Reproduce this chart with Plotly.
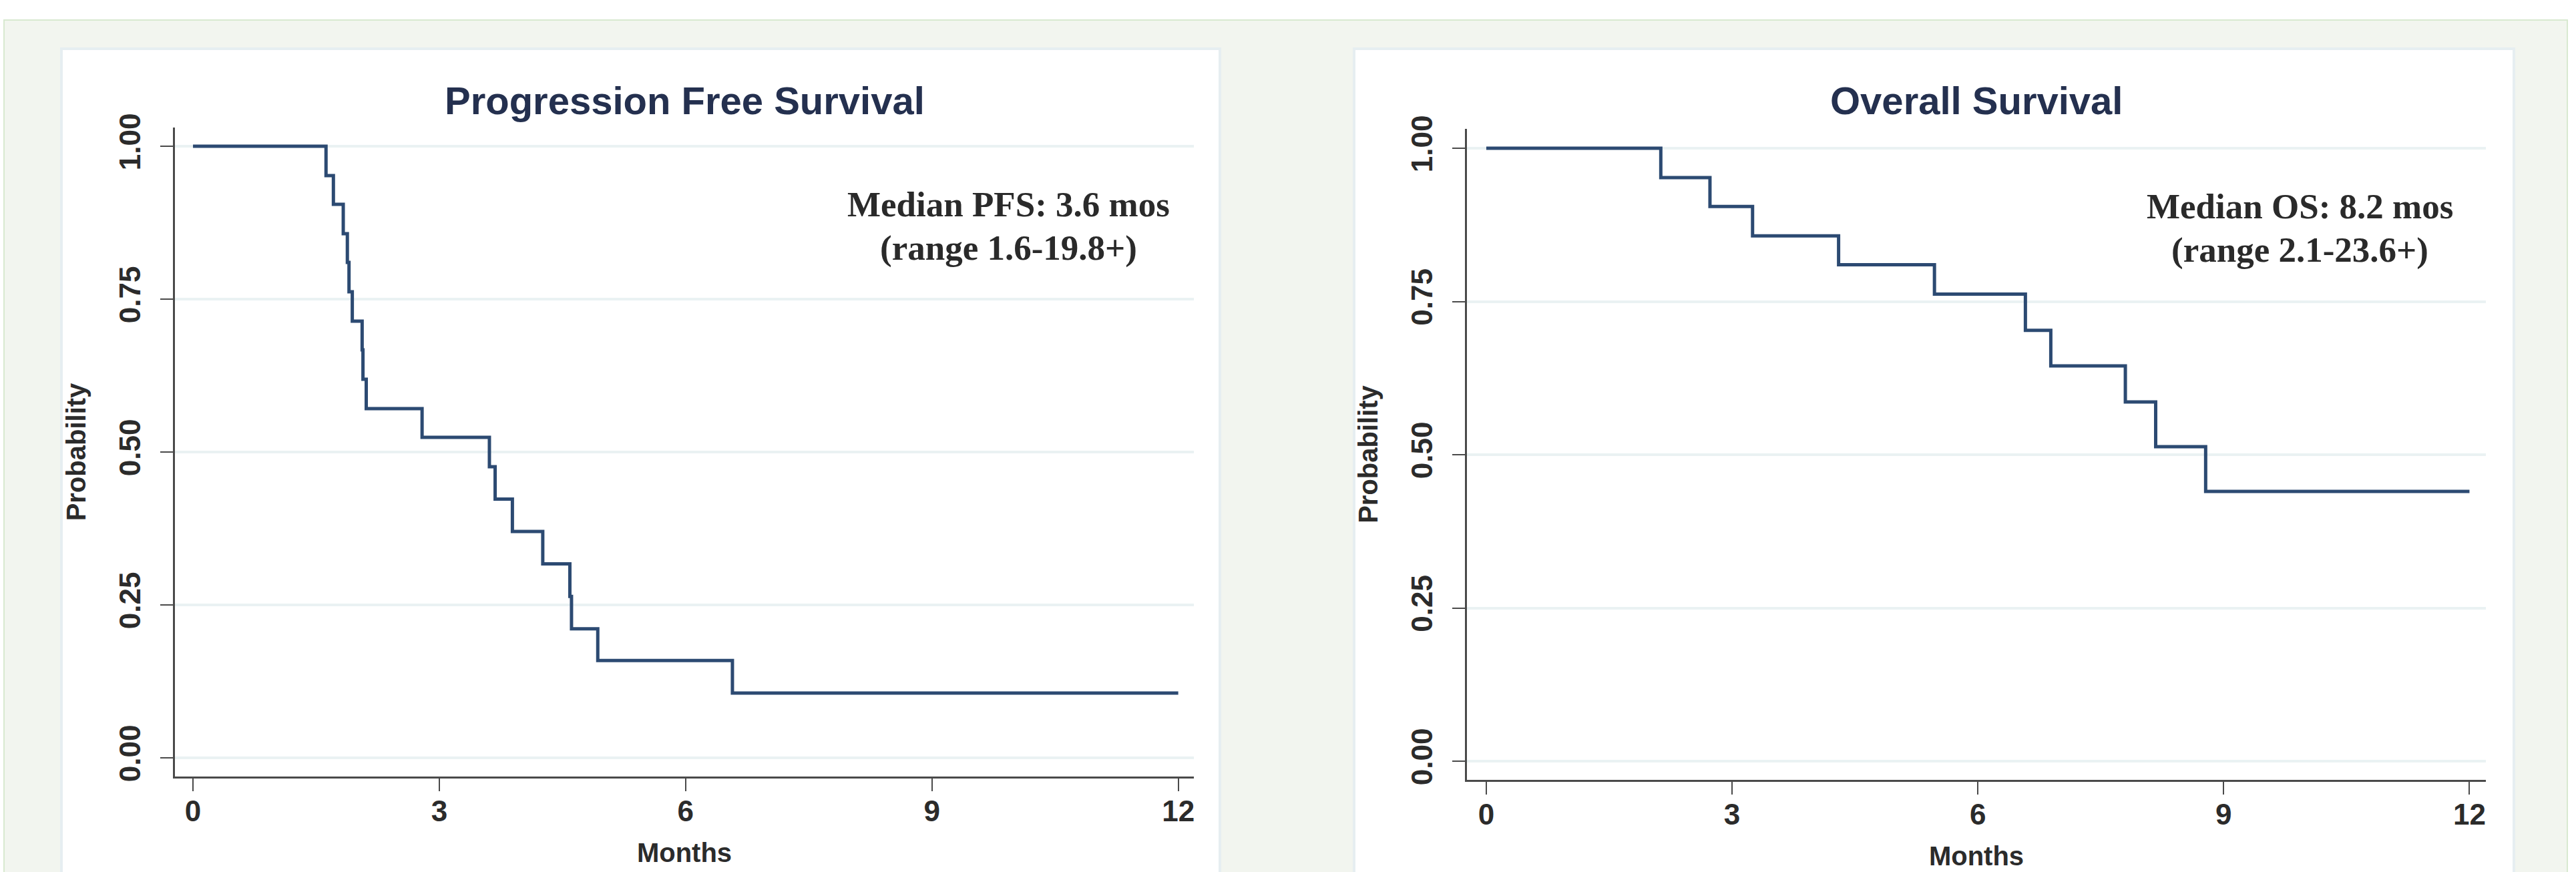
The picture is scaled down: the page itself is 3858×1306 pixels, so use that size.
import plotly.graph_objects as go

W, H = 3858, 1306

# ---- data ----
pfs_time = [0, 1.62, 1.71, 1.83, 1.88, 1.90, 1.94, 2.06, 2.07, 2.11, 2.79, 3.61,
            3.68, 3.89, 4.26, 4.59, 4.61, 4.93, 6.57, 12]
pfs_surv = [1.0, 0.952, 0.905, 0.857, 0.810, 0.762, 0.714, 0.667, 0.619, 0.571,
            0.524, 0.476, 0.423, 0.370, 0.317, 0.264, 0.211, 0.159, 0.106, 0.106]

os_time = [0, 2.13, 2.73, 3.25, 4.30, 5.47, 6.58, 6.89, 7.80, 8.17, 8.78, 12]
os_surv = [1.0, 0.952, 0.905, 0.857, 0.810, 0.762, 0.703, 0.645, 0.586, 0.513,
           0.440, 0.440]

x_ticks = [0, 3, 6, 9, 12]
y_ticks = [0, 0.25, 0.5, 0.75, 1.0]

titles = ["Progression Free Survival", "Overall Survival"]
notes_line1 = ["Median PFS: 3.6 mos", "Median OS: 8.2 mos"]
notes_line2 = ["(range 1.6-19.8+)", "(range 2.1-23.6+)"]
x_title = "Months"
y_title = "Probability"

# ---- styles ----
LINE = "#2c4a72"
GRID = "#eaf2f3"
AX = "#4a4a4a"
TXT = "#2b2b2b"
TITLE_C = "#24304f"
SANS = "Liberation Sans, Arial, sans-serif"
SERIF = "Liberation Serif, Times New Roman, serif"


def px_x(p):
    return p / W


def px_y(p):
    return 1 - p / H


fig = go.Figure()

fig.add_trace(go.Scatter(x=pfs_time, y=pfs_surv, mode="lines", line_shape="hv",
                         line=dict(color=LINE, width=5), xaxis="x", yaxis="y",
                         showlegend=False, hoverinfo="skip"))
fig.add_trace(go.Scatter(x=os_time, y=os_surv, mode="lines", line_shape="hv",
                         line=dict(color=LINE, width=5), xaxis="x2", yaxis="y2",
                         showlegend=False, hoverinfo="skip"))

common_x = dict(tickvals=x_ticks, ticks="outside", ticklen=19, tickwidth=2,
                tickcolor=AX, showline=True, linecolor=AX, linewidth=3,
                showgrid=False, zeroline=False, automargin=False,
                ticklabelstandoff=-8,
                tickfont=dict(family=SANS, size=44, color=TXT, weight="bold"),
                title=dict(text=x_title,
                           font=dict(family=SANS, size=40, color=TXT, weight="bold"),
                           standoff=26))
common_y = dict(tickvals=y_ticks, tickformat=".2f", ticks="outside", ticklen=19,
                tickwidth=2, tickcolor=AX, showline=True, linecolor=AX, linewidth=3,
                showgrid=True, gridcolor=GRID, gridwidth=4, zeroline=False,
                automargin=False, tickangle=-90, ticklabelstandoff=12,
                tickfont=dict(family=SANS, size=44, color=TXT, weight="bold"),
                title=dict(text=y_title,
                           font=dict(family=SANS, size=40, color=TXT, weight="bold"),
                           standoff=30))

fig.update_layout(
    width=W, height=H, autosize=False,
    margin=dict(l=0, r=0, t=0, b=0, pad=0),
    paper_bgcolor="white", plot_bgcolor="white",
    xaxis=dict(domain=[px_x(262), px_x(1788)], range=[-0.22, 12.19], anchor="y",
               **common_x),
    yaxis=dict(domain=[px_y(1163), px_y(191)], range=[-0.0306, 1.0306], anchor="x",
               **common_y),
    xaxis2=dict(domain=[px_x(2197), px_x(3723)], range=[-0.236, 12.2], anchor="y2",
                **common_x),
    yaxis2=dict(domain=[px_y(1168), px_y(193)], range=[-0.0305, 1.0316], anchor="x2",
                **common_y),
)

# background panels
shapes = [
    dict(type="rect", xref="paper", yref="paper", layer="below",
         x0=px_x(6), x1=px_x(3845), y0=px_y(1330), y1=px_y(30),
         fillcolor="#f2f5ef", line=dict(color="#d8e9d0", width=2)),
    dict(type="rect", xref="paper", yref="paper", layer="below",
         x0=px_x(92), x1=px_x(1827), y0=px_y(1330), y1=px_y(73),
         fillcolor="white", line=dict(color="#e6eef1", width=4)),
    dict(type="rect", xref="paper", yref="paper", layer="below",
         x0=px_x(2028), x1=px_x(3765), y0=px_y(1330), y1=px_y(73),
         fillcolor="white", line=dict(color="#e6eef1", width=4)),
]
fig.update_layout(shapes=shapes)

annotations = [
    dict(text=titles[0], xref="paper", yref="paper", x=px_x(1025), y=px_y(150),
         xanchor="center", yanchor="middle", showarrow=False,
         font=dict(family=SANS, size=58, color=TITLE_C, weight="bold")),
    dict(text=titles[1], xref="paper", yref="paper", x=px_x(2960), y=px_y(150),
         xanchor="center", yanchor="middle", showarrow=False,
         font=dict(family=SANS, size=58, color=TITLE_C, weight="bold")),
]
for i, (xr, yr) in enumerate([("x", "y"), ("x2", "y2")]):
    annotations.append(dict(text="<b>" + notes_line1[i] + "</b>", xref=xr, yref=yr,
                            x=9.93, y=0.905, xanchor="center", yanchor="middle",
                            showarrow=False,
                            font=dict(family=SERIF, size=53, color="#2a2a2a")))
    annotations.append(dict(text="<b>" + notes_line2[i] + "</b>", xref=xr, yref=yr,
                            x=9.93, y=0.834, xanchor="center", yanchor="middle",
                            showarrow=False,
                            font=dict(family=SERIF, size=53, color="#2a2a2a")))
fig.update_layout(annotations=annotations)

fig.write_html("out.html",
               config={"displayModeBar": False, "staticPlot": True},
               post_script="document.body.style.margin='0';"
                           "document.body.style.overflow='hidden';")
